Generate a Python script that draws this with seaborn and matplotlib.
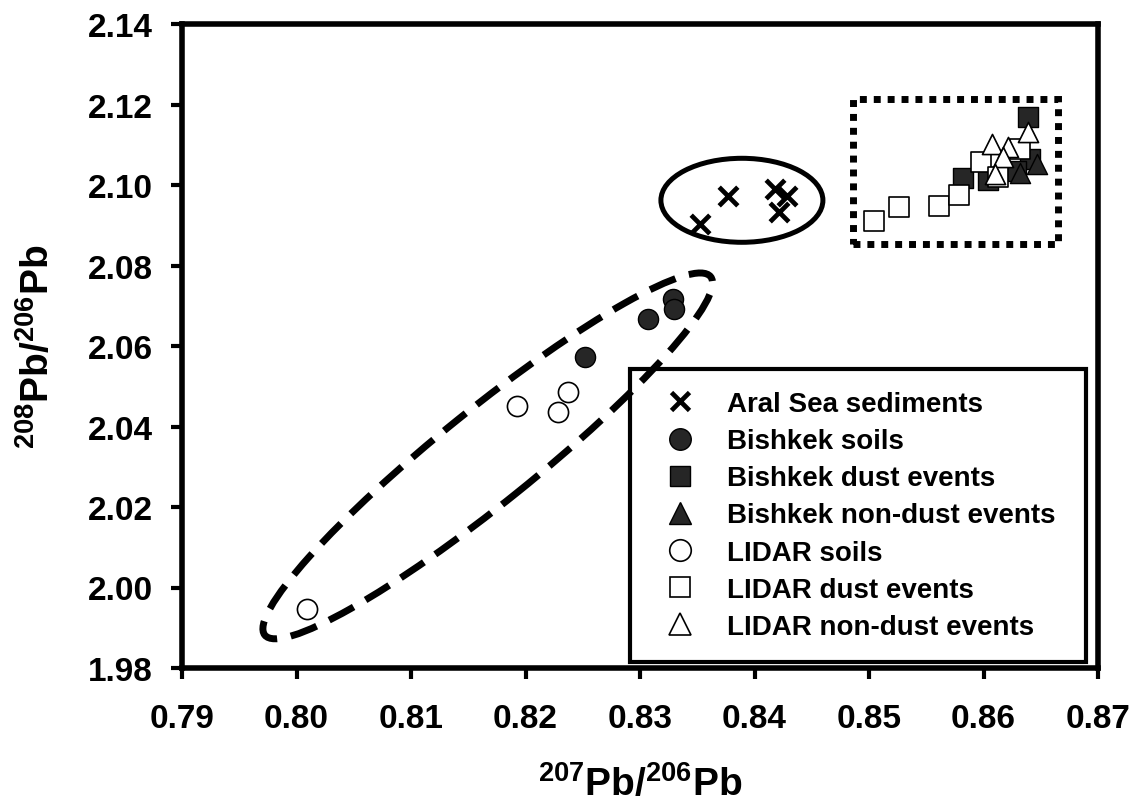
import matplotlib
matplotlib.use("Agg")
import matplotlib.pyplot as plt
import matplotlib.transforms as mtransforms
from matplotlib.patches import Ellipse, Rectangle
from matplotlib.lines import Line2D
import seaborn as sns
import pandas as pd

# ---------------- data ----------------
aral_x = [0.8352, 0.8377, 0.8418, 0.8428, 0.8421]
aral_y = [2.0903, 2.0973, 2.0990, 2.0973, 2.0933]

bish_soil_x = [0.8252, 0.8307, 0.8329, 0.8330]
bish_soil_y = [2.0573, 2.0667, 2.0717, 2.0692]

bish_dust_x = [0.8639, 0.8582, 0.8641, 0.8628, 0.8604]
bish_dust_y = [2.1169, 2.1017, 2.1065, 2.1035, 2.1012]

bish_nondust_x = [0.8647, 0.8632]
bish_nondust_y = [2.1052, 2.1030]

lidar_soil_x = [0.8193, 0.8228, 0.8237, 0.8009]
lidar_soil_y = [2.0451, 2.0436, 2.0486, 1.9947]

lidar_dust_x = [0.8504, 0.8526, 0.8561, 0.8579, 0.8598, 0.8613, 0.8632]
lidar_dust_y = [2.0911, 2.0945, 2.0948, 2.0975, 2.1057, 2.1020, 2.1089]

lidar_nondust_x = [0.8639, 0.8607, 0.8621, 0.8617, 0.8610]
lidar_nondust_y = [2.1132, 2.1102, 2.1094, 2.1070, 2.1027]

labels = ["Aral Sea sediments", "Bishkek soils", "Bishkek dust events",
          "Bishkek non-dust events", "LIDAR soils", "LIDAR dust events",
          "LIDAR non-dust events"]

x_ticks = [0.79, 0.80, 0.81, 0.82, 0.83, 0.84, 0.85, 0.86, 0.87]
y_ticks = [1.98, 2.00, 2.02, 2.04, 2.06, 2.08, 2.10, 2.12, 2.14]

# ---------------- style ----------------
sns.set_style("white")
plt.rcParams["font.family"] = ["Liberation Sans", "DejaVu Sans"]
plt.rcParams["font.weight"] = "bold"
plt.rcParams["text.color"] = "black"
plt.rcParams["axes.labelcolor"] = "black"
plt.rcParams["xtick.color"] = "black"
plt.rcParams["ytick.color"] = "black"
plt.rcParams["mathtext.fontset"] = "custom"
plt.rcParams["mathtext.rm"] = "Liberation Sans:bold"
plt.rcParams["mathtext.it"] = "Liberation Sans:bold"
plt.rcParams["mathtext.bf"] = "Liberation Sans:bold"
plt.rcParams["mathtext.default"] = "rm"

frames = []
groups = [
    (labels[0], aral_x, aral_y),
    (labels[1], bish_soil_x, bish_soil_y),
    (labels[2], bish_dust_x, bish_dust_y),
    (labels[3], bish_nondust_x, bish_nondust_y),
    (labels[4], lidar_soil_x, lidar_soil_y),
    (labels[5], lidar_dust_x, lidar_dust_y),
    (labels[6], lidar_nondust_x, lidar_nondust_y),
]
for name, xs, ys in groups:
    frames.append(pd.DataFrame({"x": xs, "y": ys, "group": name}))
df = pd.concat(frames, ignore_index=True)

dark = "#262626"
styles = {
    labels[0]: dict(marker="x", s=180, color="black", linewidth=3.4),
    labels[1]: dict(marker="o", s=210, color=dark, edgecolor="black", linewidth=1.0),
    labels[2]: dict(marker="s", s=195, color=dark, edgecolor="black", linewidth=1.0),
    labels[3]: dict(marker="^", s=210, color=dark, edgecolor="black", linewidth=1.0),
    labels[4]: dict(marker="o", s=210, color="white", edgecolor="black", linewidth=1.2),
    labels[5]: dict(marker="s", s=195, color="white", edgecolor="black", linewidth=1.2),
    labels[6]: dict(marker="^", s=210, color="white", edgecolor="black", linewidth=1.2),
}

W, H = 1144, 812
fig = plt.figure(figsize=(W / 100, H / 100), dpi=100)
L, R, T, B = 182, 1098, 25, 669
ax = fig.add_axes([L / W, 1 - B / H, (R - L) / W, (B - T) / H])

for name in labels:
    sub = df[df["group"] == name]
    sns.scatterplot(data=sub, x="x", y="y", ax=ax, legend=False, zorder=3,
                    **styles[name])

ax.set_xlim(0.79, 0.87)
ax.set_ylim(1.98, 2.14)
ax.set_xticks(x_ticks)
ax.set_yticks(y_ticks)
ax.set_xticklabels([f"{v:.2f}" for v in x_ticks])
ax.set_yticklabels([f"{v:.2f}" for v in y_ticks])

for sp in ax.spines.values():
    sp.set_visible(True)
    sp.set_linewidth(4)
    sp.set_color("black")
ax.tick_params(axis="both", which="major", direction="out", length=8, width=3,
               color="black", labelsize=24, labelcolor="black")
ax.tick_params(axis="x", pad=17, bottom=True, top=False)
ax.tick_params(axis="y", pad=13, left=True, right=False)
for lab in ax.get_xticklabels() + ax.get_yticklabels():
    lab.set_fontweight("bold")
ax.grid(False)

ax.set_xlabel(r"$^{207}$Pb/$^{206}$Pb", fontsize=28, fontweight="bold")
ax.set_ylabel(r"$^{208}$Pb/$^{206}$Pb", fontsize=28, fontweight="bold")
ax.xaxis.set_label_coords(0.5, -0.150)
ax.yaxis.set_label_coords(-0.137, 0.5)

# ---------------- grouping shapes ----------------
def inch_ellipse(cx, cy, w_in, h_in, angle, **kw):
    tr = fig.dpi_scale_trans + mtransforms.ScaledTranslation(cx, cy, ax.transData)
    e = Ellipse((0, 0), w_in, h_in, angle=angle, transform=tr, fill=False, **kw)
    ax.add_patch(e)
    return e

inch_ellipse(0.8389, 2.0962, 1.62, 0.84, 0, edgecolor="black", linewidth=3.6, zorder=2)
inch_ellipse(0.8167, 2.0327, 5.72, 0.94, 38.8, edgecolor="black", linewidth=5,
             linestyle=(0, (4, 2)), zorder=6)
rect = Rectangle((0.8486, 2.0853), 0.8665 - 0.8486, 2.1214 - 2.0853, fill=False,
                 edgecolor="black", linewidth=5, linestyle=(0, (1, 1)), zorder=2)
ax.add_patch(rect)

# ---------------- legend ----------------
handles = []
for name in labels:
    st = styles[name]
    if st["marker"] == "x":
        h = Line2D([], [], linestyle="none", marker="x", markersize=13.5,
                   markeredgewidth=3.4, color="black")
    else:
        h = Line2D([], [], linestyle="none", marker=st["marker"],
                   markersize=15.5 if st["marker"] != "s" else 15,
                   markerfacecolor=st["color"], markeredgecolor="black",
                   markeredgewidth=st["linewidth"])
    handles.append(h)

leg = ax.legend(handles, labels, loc="lower left",
                bbox_to_anchor=(0.489, 0.0093, 0.498, 0.463), mode="expand",
                prop={"weight": "bold", "size": 20}, frameon=True,
                fancybox=False, framealpha=1, borderpad=0.8, labelspacing=0.40,
                handlelength=2.0, handletextpad=0.7, borderaxespad=0)
leg.get_frame().set_edgecolor("black")
leg.get_frame().set_linewidth(3)
for t in leg.get_texts():
    t.set_color("black")
leg.set_zorder(5)

fig.savefig("out.png", dpi=100)
